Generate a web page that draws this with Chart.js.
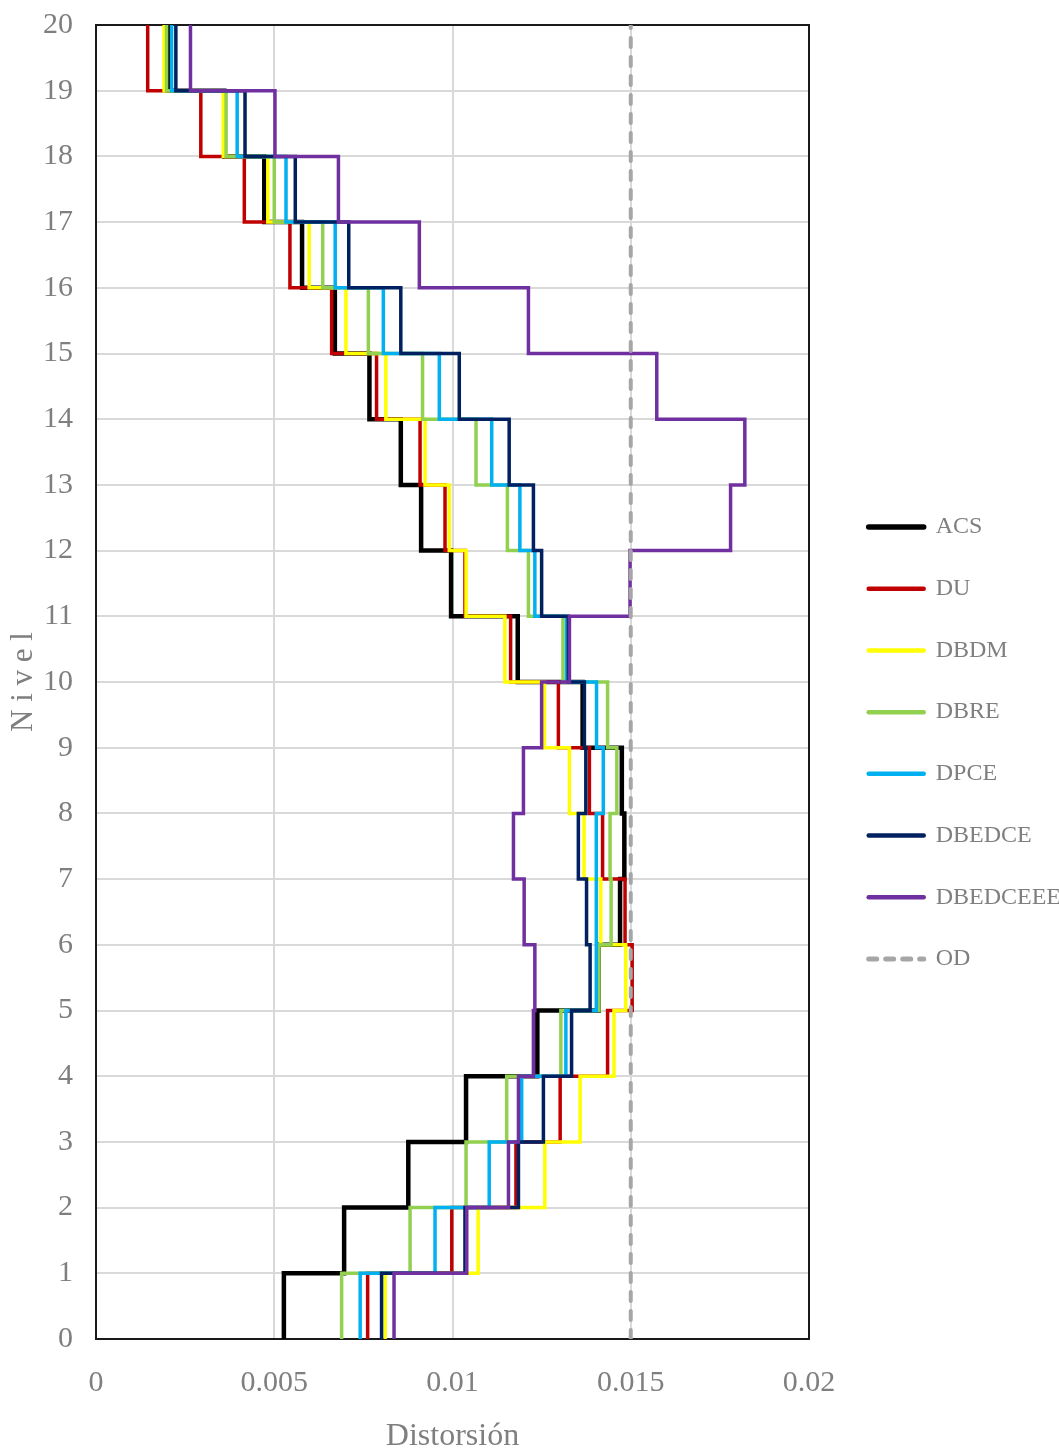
<!DOCTYPE html>
<html>
<head>
<meta charset="utf-8">
<script src="https://cdn.jsdelivr.net/npm/chart.js@4.4.1/dist/chart.umd.min.js"></script>
<style>
  html, body { margin: 0; padding: 0; background: #ffffff; }
  #wrap { width: 1059px; height: 1453px; position: relative; }
</style>
</head>
<body>
<div id="wrap"><canvas id="drift"></canvas></div>
<script>
// Inter-storey drift per storey (storey 1 at the bottom, storey 20 at the top)
const storeys = 20;
const xTickLabels = ['0', '0.005', '0.01', '0.015', '0.02'];
const seriesNames = ['ACS', 'DU', 'DBDM', 'DBRE', 'DPCE', 'DBEDCE', 'DBEDCEEE', 'OD'];

const acs = [0.00527, 0.00696, 0.00876, 0.01038, 0.01238, 0.01410, 0.01470, 0.01482, 0.01475, 0.01365,
             0.01183, 0.00996, 0.00912, 0.00855, 0.00767, 0.00670, 0.00578, 0.00472, 0.00360, 0.00204];
const du = [0.00762, 0.00998, 0.01178, 0.01302, 0.01435, 0.01504, 0.01484, 0.01421, 0.01384, 0.01297,
            0.01163, 0.01035, 0.00979, 0.00909, 0.00787, 0.00661, 0.00544, 0.00416, 0.00294, 0.00145];
const dbdm = [0.00811, 0.01072, 0.01259, 0.01358, 0.01453, 0.01486, 0.01416, 0.01369, 0.01328, 0.01258,
              0.01147, 0.01038, 0.00991, 0.00923, 0.00813, 0.00701, 0.00598, 0.00482, 0.00357, 0.00191];
const dbre = [0.00689, 0.00881, 0.01038, 0.01152, 0.01304, 0.01411, 0.01445, 0.01442, 0.01461, 0.01435,
              0.01310, 0.01213, 0.01154, 0.01066, 0.00916, 0.00764, 0.00636, 0.00500, 0.00365, 0.00198];
const dpce = [0.00741, 0.00951, 0.01103, 0.01194, 0.01318, 0.01403, 0.01404, 0.01403, 0.01423, 0.01404,
              0.01320, 0.01231, 0.01189, 0.01110, 0.00963, 0.00806, 0.00671, 0.00533, 0.00396, 0.00212];
const dbedce = [0.00801, 0.01035, 0.01185, 0.01255, 0.01334, 0.01386, 0.01376, 0.01353, 0.01374, 0.01370,
                0.01325, 0.01250, 0.01227, 0.01159, 0.01019, 0.00855, 0.00709, 0.00559, 0.00418, 0.00224];
const dbedceee = [0.00836, 0.01040, 0.01157, 0.01185, 0.01227, 0.01231, 0.01201, 0.01171, 0.01199, 0.01250,
                  0.01328, 0.01498, 0.01780, 0.01820, 0.01573, 0.01213, 0.00907, 0.00680, 0.00502, 0.00265];
const odLimit = 0.015; // allowable drift

const seriesValues = [acs, du, dbdm, dbre, dpce, dbedce, dbedceee];
const seriesColors = ['#000000', '#c00000', '#ffff00', '#92d050', '#00b0f0', '#002060', '#7030a0'];
const odColor = '#a6a6a6';

const FONT_FAMILY = "'Liberation Serif', serif";
const TEXT_COLOR = '#7f7f7f';
const font = size => ({ family: FONT_FAMILY, size: size, weight: 'normal', lineHeight: 1.2 });

// Each storey drift is drawn as a vertical segment spanning its storey
const stepPoints = values => values.flatMap((v, i) => [{ x: v, y: i }, { x: v, y: i + 1 }]);

const datasets = seriesValues.map((values, k) => ({
  label: seriesNames[k],
  data: stepPoints(values),
  borderColor: seriesColors[k],
  backgroundColor: seriesColors[k],
  borderWidth: k === 0 ? 4.5 : 3.5,
  borderJoinStyle: 'miter',
  borderCapStyle: 'butt',
  pointRadius: 0,
  tension: 0,
  fill: false,
  order: seriesValues.length - k
}));
datasets.push({
  label: seriesNames[7],
  data: [{ x: odLimit, y: 0 }, { x: odLimit, y: storeys }],
  borderColor: odColor,
  backgroundColor: odColor,
  borderWidth: 4,
  borderDash: [9, 10],
  borderCapStyle: 'round',
  pointRadius: 0,
  tension: 0,
  fill: false,
  order: 0
});

// Plot frame around the chart area
const framePlugin = {
  id: 'plotFrame',
  beforeDatasetsDraw(chart) {
    const { ctx, chartArea: a } = chart;
    ctx.save();
    ctx.strokeStyle = '#1a1a1a';
    ctx.lineWidth = 2;
    ctx.strokeRect(a.left, a.top, a.right - a.left, a.bottom - a.top);
    ctx.restore();
  }
};

// Fixed legend column width
const LEGEND_WIDTH = 228;
const legendWidthPlugin = {
  id: 'legendWidth',
  beforeLayout(chart) {
    const lg = chart.legend;
    if (lg && !lg._fixedWidth) {
      const baseFit = lg.fit;
      lg.fit = function () { baseFit.call(this); this.width = LEGEND_WIDTH; };
      lg._fixedWidth = true;
    }
  }
};

// Scales keep the chart area exactly where the layout padding puts it
const noEdgePadding = scale => {
  scale.paddingTop = 0;
  scale.paddingBottom = 0;
  scale.paddingLeft = 0;
  scale.paddingRight = 0;
};

new Chart(document.getElementById('drift'), {
  type: 'line',
  data: { datasets: datasets },
  plugins: [framePlugin, legendWidthPlugin],
  options: {
    responsive: true,
    maintainAspectRatio: false,
    animation: false,
    layout: { padding: { top: 25, right: 0, bottom: 0, left: 0 } },
    plugins: {
      tooltip: { enabled: false },
      legend: {
        position: 'right',
        align: 'center',
        title: { display: true, text: '', font: { size: 5, lineHeight: 1.2 }, padding: 1 },
        labels: {
          usePointStyle: true,
          pointStyle: 'line',
          pointStyleWidth: 55,
          padding: 37.7,
          font: font(24),
          color: TEXT_COLOR,
          sort: (a, b) => a.datasetIndex - b.datasetIndex,
          generateLabels(chart) {
            return Chart.defaults.plugins.legend.labels.generateLabels(chart).map(item => {
              const ds = chart.data.datasets[item.datasetIndex];
              item.strokeStyle = ds.borderColor;
              item.lineWidth = ds.borderDash ? 5 : (item.datasetIndex === 0 ? 5.5 : 4.5);
              item.lineDash = ds.borderDash ? [8, 9] : [];
              item.lineCap = 'round';
              return item;
            });
          }
        }
      }
    },
    scales: {
      x: {
        type: 'linear',
        min: 0,
        max: 0.02,
        ticks: {
          stepSize: 0.005,
          font: font(30),
          color: TEXT_COLOR,
          padding: 26,
          maxRotation: 0,
          callback: (v, i) => xTickLabels[i]
        },
        grid: { color: '#d9d9d9', lineWidth: 2, drawTicks: false },
        border: { display: false },
        title: { display: true, text: 'Distorsión', font: font(32), color: TEXT_COLOR, padding: { top: 0, bottom: -3 } },
        afterFit(scale) { scale.height = 114; noEdgePadding(scale); }
      },
      y: {
        type: 'linear',
        min: 0,
        max: storeys,
        ticks: { stepSize: 1, font: font(30), color: TEXT_COLOR, padding: 23 },
        grid: { color: '#d9d9d9', lineWidth: 2, drawTicks: false },
        border: { display: false },
        title: { display: true, text: 'N i v e l', font: font(31), color: TEXT_COLOR, padding: { top: 5, bottom: 0 } },
        afterFit(scale) { scale.width = 96; noEdgePadding(scale); }
      },
      gap: {
        type: 'linear',
        position: 'right',
        display: true,
        min: 0,
        max: 1,
        ticks: { display: false },
        grid: { display: false, drawTicks: false },
        border: { display: false },
        afterFit(scale) { scale.width = 1059 - 809 - LEGEND_WIDTH; noEdgePadding(scale); }
      }
    }
  }
});
</script>
</body>
</html>
